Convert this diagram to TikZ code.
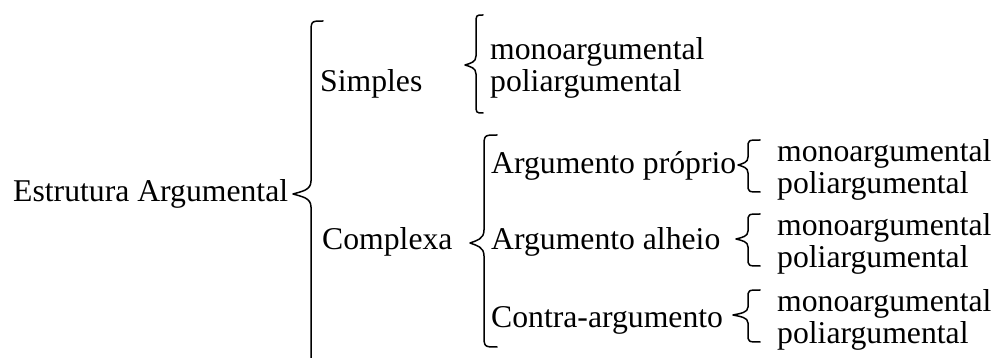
\documentclass[tikz,border=0pt]{standalone}
\usepackage{fontspec}
\setmainfont{Liberation Serif}
\tikzset{
  rotulo/.style={anchor=base west, inner sep=0pt, font=\fontsize{31.7}{36}\selectfont},
  chave/.style={line width=1.5pt, line cap=round, line join=round}
}
% chave: {x ponta}{x haste}{x fim}{y topo}{y ponta}{y base}{raio}
\newcommand\desenhachave[7]{%
  \draw[chave] (#3,#4) .. controls (#2,#4) .. (#2,{#4+#7}) -- (#2,{#5-#7})
    .. controls (#2,{#5-0.3*#7}) and ({#1+0.5*(#2-#1)},{#5-0.2*#7}) .. (#1,#5)
    .. controls ({#1+0.5*(#2-#1)},{#5+0.2*#7}) and (#2,{#5+0.3*#7}) .. (#2,{#5+#7})
    -- (#2,{#6-#7}) .. controls (#2,#6) .. (#3,#6);}
\begin{document}
\begin{tikzpicture}[x=1pt, y=-1pt]
  \useasboundingbox (0,0) rectangle (997,358);
  % a raiz e os dois ramos
  \node[rotulo] (est) at (13,202) {Estrutura Argumental};
  \node[rotulo] (simp) at (320,92) {Simples};
  \node[rotulo] (comp) at (322,250) {Complexa};
  \desenhachave{293}{311}{323}{21}{194}{364}{13}
  % ramo simples
  \node[rotulo] (mono0) at (490,60) {monoargumental};
  \node[rotulo] (poli0) at (490,92) {poliargumental};
  \desenhachave{465}{476}{483}{15}{65}{113}{9}
  % ramo complexo
  \node[rotulo] (prop) at (491,174) {Argumento próprio};
  \node[rotulo] (alh) at (491,250) {Argumento alheio};
  \node[rotulo] (contra) at (491,328) {Contra-argumento};
  \desenhachave{470}{484}{497}{135}{243}{347}{13}
  % as folhas da direita
  \foreach \n/\y/\xp in {1/162/738, 2/236/736, 3/312/733} {
    \node[rotulo] (mono\n) at (777,\y) {monoargumental};
    \node[rotulo] (poli\n) at (777,\y+32) {poliargumental};
    \desenhachave{\xp}{748}{760}{\y-22}{\y+3}{\y+30}{8}
  }
\end{tikzpicture}
\end{document}
